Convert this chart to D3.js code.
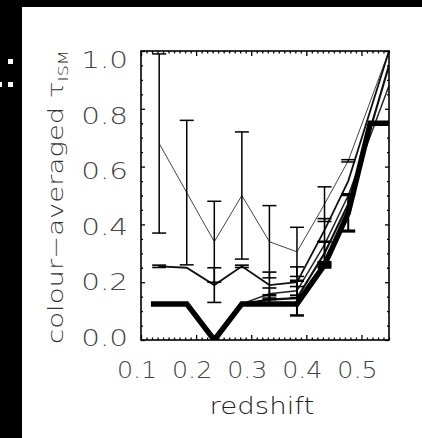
<!DOCTYPE html>
<html>
<head>
<meta charset="utf-8">
<script src="https://cdn.jsdelivr.net/npm/d3@7"></script>
<style>
  html, body { margin: 0; padding: 0; background: #000; overflow: hidden; }
  svg { display: block; }
  text { font-family: "DejaVu Sans", "Liberation Sans", sans-serif; font-weight: 200; }
</style>
</head>
<body>
<div id="chart"></div>
<script>
// bin centres in redshift
const redshift = [0.133, 0.183, 0.233, 0.283, 0.333, 0.383, 0.433, 0.476, 0.55];
// thin line, the one with the big error bars
const tauThin = [0.68, 0.51, 0.34, 0.50, 0.34, 0.305, 0.47, 0.62, 1.0];
const errThin = [0.31, 0.25, 0.14, 0.22, 0.125, 0.085, 0.06, 0.004, null];
// medium line around 0.2-0.25
const tauMid = [0.255, 0.25, 0.19, 0.255, 0.19, 0.20, 0.38, 0.55, 1.0];
const errMid = [0.004, null, 0.06, 0.004, 0.045, 0.053, 0.04, null, null];
// two lines that split off the thick one after z~0.3
const tauLow1 = [0.125, 0.125, 0.0, 0.125, 0.16, 0.17, 0.33, 0.50, 0.88];
const errLow1 = [null, null, null, null, 0.02, 0.015, null, null, null];
const tauLow2 = [0.125, 0.125, 0.0, 0.125, 0.14, 0.145, 0.30, 0.47, 0.95];
const errLow2 = [null, null, null, null, 0.015, 0.06, 0.04, null, null];
// thick line (its own redshift points)
const redshiftThick = [0.118, 0.183, 0.233, 0.283, 0.333, 0.383, 0.433, 0.476, 0.516, 0.55];
const tauThick = [0.125, 0.125, 0.0, 0.125, 0.125, 0.125, 0.26, 0.44, 0.75, 0.75];
const errThick = [null, null, null, null, null, null, 0.008, 0.063, null, null];

const xTicks = [0.1, 0.2, 0.3, 0.4, 0.5];
const yTicks = [0.0, 0.2, 0.4, 0.6, 0.8, 1.0];

function makeSeries(z, tau, err, capWidth) {
    return z.map((d, i) => ({ z: d, tau: tau[i], err: err[i], capWidth }));
}

const series = [
    { pts: makeSeries(redshift, tauThin, errThin, 1.5), width: 1, color: "#444" },
    { pts: makeSeries(redshift, tauMid, errMid, 1.6), width: 1.8, color: "#111" },
    { pts: makeSeries(redshift, tauLow1, errLow1, 1.6), width: 1.5, color: "#222" },
    { pts: makeSeries(redshift, tauLow2, errLow2, 2.5), width: 2.2, color: "#111" },
    { pts: makeSeries(redshiftThick, tauThick, errThick, 3.2), width: 5.5, color: "#000" }
];

const W = 422, H = 438;
const plot = { left: 141, right: 389, top: 51, bottom: 340 };

const svg = d3.select("#chart").append("svg")
    .attr("width", W)
    .attr("height", H);

// white page on black
svg.append("rect")
    .attr("x", 22).attr("y", 7)
    .attr("width", W - 22).attr("height", H - 7)
    .attr("fill", "#fff");

// little white specks left of the page
svg.append("g").selectAll("rect")
    .data([[8, 59], [8, 82], [-3, 82]])
    .enter().append("rect")
    .attr("x", d => d[0]).attr("y", d => d[1])
    .attr("width", 5).attr("height", 5)
    .attr("fill", "#fff");

const x = d3.scaleLinear().domain([0.1, 0.55]).range([plot.left, plot.right]);
const y = d3.scaleLinear().domain([0, 1]).range([plot.bottom, plot.top]);
// labels in the original sit on a slightly squashed scale
const yLab = d3.scaleLinear().domain([0, 1]).range([338, 60]);

svg.append("defs").append("clipPath").attr("id", "clip")
    .append("rect")
    .attr("x", plot.left).attr("y", plot.top)
    .attr("width", plot.right - plot.left)
    .attr("height", plot.bottom - plot.top);

const marks = svg.append("g").attr("clip-path", "url(#clip)");

const line = d3.line().x(d => x(d.z)).y(d => y(d.tau));

series.forEach(s => {
    marks.append("path")
        .datum(s.pts)
        .attr("d", line)
        .attr("fill", "none")
        .attr("stroke", s.color)
        .attr("stroke-width", s.width)
        .attr("stroke-linejoin", "miter");
});

// error bars
const bars = series.flatMap(s => s.pts.filter(p => p.err != null));
const cap = 7;
const eb = marks.append("g").selectAll("g")
    .data(bars)
    .enter().append("g")
    .attr("stroke", "#000");

eb.append("line")
    .attr("x1", d => x(d.z)).attr("x2", d => x(d.z))
    .attr("y1", d => y(d.tau - d.err)).attr("y2", d => y(d.tau + d.err))
    .attr("stroke-width", d => Math.min(d.capWidth, 2));
eb.append("line")
    .attr("x1", d => x(d.z) - cap).attr("x2", d => x(d.z) + cap)
    .attr("y1", d => y(d.tau - d.err)).attr("y2", d => y(d.tau - d.err))
    .attr("stroke-width", d => d.capWidth);
eb.append("line")
    .attr("x1", d => x(d.z) - cap).attr("x2", d => x(d.z) + cap)
    .attr("y1", d => y(d.tau + d.err)).attr("y2", d => y(d.tau + d.err))
    .attr("stroke-width", d => d.capWidth);

// axes, ticks pointing inward
const xMinor = d3.range(0.11, 0.55, 0.01).filter(v => Math.abs(v * 10 - Math.round(v * 10)) > 1e-6);
const yMinor = d3.range(0.05, 1.0, 0.05).filter(v => Math.abs(v * 5 - Math.round(v * 5)) > 1e-6);

function styleAxis(g) {
    g.select(".domain").remove();
    g.selectAll(".tick line").attr("stroke", "#000").attr("stroke-width", 1.3);
    g.selectAll(".tick text").remove();
}

svg.append("g").attr("transform", `translate(0,${plot.bottom})`)
    .call(d3.axisBottom(x).tickValues(xTicks).tickSize(-5)).call(styleAxis);
svg.append("g").attr("transform", `translate(0,${plot.bottom})`)
    .call(d3.axisBottom(x).tickValues(xMinor).tickSize(-2.5)).call(styleAxis);
svg.append("g").attr("transform", `translate(0,${plot.top})`)
    .call(d3.axisTop(x).tickValues(xTicks).tickSize(-5)).call(styleAxis);
svg.append("g").attr("transform", `translate(0,${plot.top})`)
    .call(d3.axisTop(x).tickValues(xMinor).tickSize(-2.5)).call(styleAxis);
svg.append("g").attr("transform", `translate(${plot.left},0)`)
    .call(d3.axisLeft(y).tickValues(yTicks).tickSize(-4)).call(styleAxis);
svg.append("g").attr("transform", `translate(${plot.left},0)`)
    .call(d3.axisLeft(y).tickValues(yMinor).tickSize(-2)).call(styleAxis);
svg.append("g").attr("transform", `translate(${plot.right},0)`)
    .call(d3.axisRight(y).tickValues(yTicks).tickSize(-4)).call(styleAxis);
svg.append("g").attr("transform", `translate(${plot.right},0)`)
    .call(d3.axisRight(y).tickValues(yMinor).tickSize(-2)).call(styleAxis);

// frame
svg.append("rect")
    .attr("x", plot.left).attr("y", plot.top)
    .attr("width", plot.right - plot.left)
    .attr("height", plot.bottom - plot.top)
    .attr("fill", "none")
    .attr("stroke", "#000")
    .attr("stroke-width", 1.6);

// tick labels
svg.append("g").selectAll("text")
    .data(xTicks)
    .enter().append("text")
    .attr("transform", d => `translate(${x(d) - 4},378) scale(1.1,1)`)
    .attr("text-anchor", "middle")
    .attr("font-size", 23)
    .attr("fill", "#444")
    .text(d => d3.format(".1f")(d));

svg.append("g").selectAll("text")
    .data(yTicks)
    .enter().append("text")
    .attr("transform", d => `translate(128,${yLab(d) + 8}) scale(1.28,1)`)
    .attr("text-anchor", "end")
    .attr("font-size", 23)
    .attr("fill", "#444")
    .text(d => d3.format(".1f")(d));

// axis titles
svg.append("text")
    .attr("transform", "translate(262,414) scale(1.2,1)")
    .attr("text-anchor", "middle")
    .attr("font-size", 23)
    .attr("fill", "#222")
    .text("redshift");

const yt = svg.append("text")
    .attr("transform", "translate(63,197) rotate(-90) scale(1.25,1)")
    .attr("text-anchor", "middle")
    .attr("font-size", 22)
    .attr("fill", "#333");
yt.append("tspan").text("colour\u2212averaged \u03c4");
yt.append("tspan").attr("font-size", 14).attr("dy", 5).text("ISM");
</script>
</body>
</html>
